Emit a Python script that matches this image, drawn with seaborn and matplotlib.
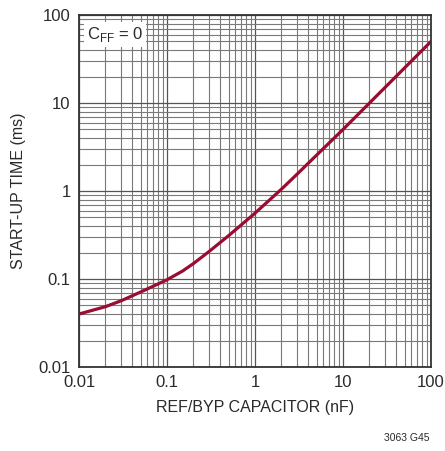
import matplotlib
matplotlib.use("Agg")
import matplotlib.pyplot as plt
import pandas as pd
import seaborn as sns
from matplotlib.ticker import LogLocator, FixedLocator, NullFormatter

# start-up time vs REF/BYP capacitor
cap_nf = [0.01, 0.02, 0.03, 0.05, 0.07, 0.1, 0.15, 0.2, 0.3, 0.5,
          1, 2, 3, 5, 10, 20, 50, 100]
startup_ms = [0.040, 0.0485, 0.0565, 0.071, 0.083, 0.098, 0.123, 0.150, 0.205,
              0.31, 0.56, 1.05, 1.55, 2.55, 5.0, 10, 25, 50]

x_ticks = [0.01, 0.1, 1, 10, 100]
x_labels = ["0.01", "0.1", "1", "10", "100"]
y_ticks = [0.01, 0.1, 1, 10, 100]
y_labels = ["0.01", "0.1", "1", "10", "100"]

df = pd.DataFrame({"cap": cap_nf, "t": startup_ms})

sns.set_style("white")
plt.rcParams["font.family"] = ["Liberation Sans", "DejaVu Sans"]
plt.rcParams["mathtext.fontset"] = "custom"
plt.rcParams["mathtext.rm"] = "Liberation Sans"

fig = plt.figure(figsize=(4.45, 4.51), dpi=100)
ax = fig.add_axes([79 / 445, 84 / 451, 352 / 445, 352 / 451])

sns.lineplot(data=df, x="cap", y="t", ax=ax, color="#9a0c32", linewidth=2.3)
ax.set_xscale("log")
ax.set_yscale("log")
ax.set_xlim(0.01, 100)
ax.set_ylim(0.01, 100)

ax.xaxis.set_major_locator(FixedLocator(x_ticks))
ax.set_xticklabels(x_labels)
ax.yaxis.set_major_locator(FixedLocator(y_ticks))
ax.set_yticklabels(y_labels)
for axis in (ax.xaxis, ax.yaxis):
    axis.set_minor_locator(LogLocator(base=10, subs=range(2, 10), numticks=20))
    axis.set_minor_formatter(NullFormatter())

ax.grid(which="major", color="#555555", linewidth=0.9)
ax.grid(which="minor", color="#7a7a7a", linewidth=0.8)
ax.tick_params(which="both", length=0, labelsize=12, colors="#2a2a2a", pad=6)

for sp in ax.spines.values():
    sp.set_color("#333333")
    sp.set_linewidth(1.3)

ax.set_xlabel("REF/BYP CAPACITOR (nF)", fontsize=11.5, color="#2a2a2a", labelpad=7)
ax.set_ylabel("START-UP TIME (ms)", fontsize=11.5, color="#2a2a2a", labelpad=9)

ax.text(0.0123, 60, r"C$_\mathregular{FF}$ = 0", fontsize=12, color="#2a2a2a",
        va="center", ha="left",
        bbox=dict(facecolor="white", edgecolor="none", pad=2))

fig.text(430 / 445, 1 - 438 / 451, "3063 G45", fontsize=7.5, color="#2a2a2a",
         ha="right", va="center")

fig.savefig("out.png", dpi=100)
plt.close(fig)
